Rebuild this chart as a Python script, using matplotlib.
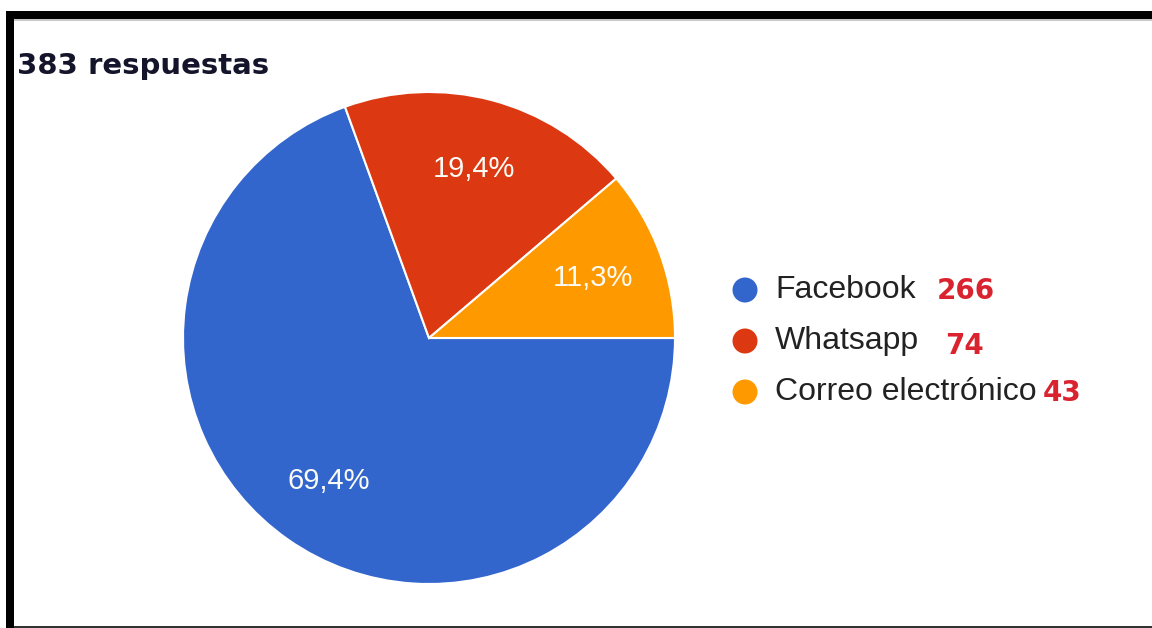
import numpy as np
import matplotlib.pyplot as plt
from matplotlib.patches import Rectangle, Circle

# data
categories = ['Facebook', 'Whatsapp', 'Correo electrónico']
counts = [266, 74, 43]
pct_labels = ['69,4%', '19,4%', '11,3%']
colors = ['#3366CC', '#DC3912', '#FF9900']
title = '383 respuestas'

W, H = 1152, 628
fig = plt.figure(figsize=(W / 100, H / 100), dpi=100)
fig.patch.set_facecolor('white')

# overlay in pixel coords (y down) for frame, title and legend
ov = fig.add_axes([0, 0, 1, 1])
ov.set_xlim(0, W)
ov.set_ylim(H, 0)
ov.axis('off')

# black frame like the screenshot
ov.add_patch(Rectangle((6, 11), W - 6, 8, color='black', lw=0))
ov.add_patch(Rectangle((6, 19), W - 6, 1.5, color='#c8c8c8', lw=0))
ov.add_patch(Rectangle((6, 11), 8, H - 11, color='black', lw=0))
ov.add_patch(Rectangle((14, H - 2.5), W - 14, 2.5, color='#333333', lw=0))

ov.text(17, 66, title, fontsize=21, fontweight='bold', color='#14142a',
        family='DejaVu Sans', va='center', ha='left')

# pie
cx, cy, r = 429, 338, 246
pax = fig.add_axes([(cx - r) / W, (H - cy - r) / H, 2 * r / W, 2 * r / H])
wedges, _ = pax.pie(counts, colors=colors, startangle=0, counterclock=False,
                    wedgeprops=dict(edgecolor='white', linewidth=1.5))
pax.set_xlim(-1, 1)
pax.set_ylim(-1, 1)
pax.set_aspect('equal')

total = sum(counts)
ang = 0.0
for c, lab in zip(counts, pct_labels):
    span = 360.0 * c / total
    mid = np.deg2rad(ang - span / 2)
    ang -= span
    d = 0.71
    pax.text(d * np.cos(mid), d * np.sin(mid), lab, color='#fbfbf5', fontsize=21,
             family='Liberation Sans', ha='center', va='center')

# legend
lx, ly0, dy = 745, 290, 51
num_x = [937, 945, 1043]
for i, (cat, col, n) in enumerate(zip(categories, colors, counts)):
    y = ly0 + i * dy
    ov.add_patch(Circle((lx, y), 12.5, color=col, lw=0))
    ov.text(775, y, cat, fontsize=23, family='Liberation Sans', color='#222222',
            va='center', ha='left')
    ov.text(num_x[i], y + (5 if i == 1 else 1), str(n), fontsize=20, fontweight='bold',
            family='DejaVu Sans', color='#D9232E', va='center', ha='left')

fig.savefig('out.png', dpi=100)
